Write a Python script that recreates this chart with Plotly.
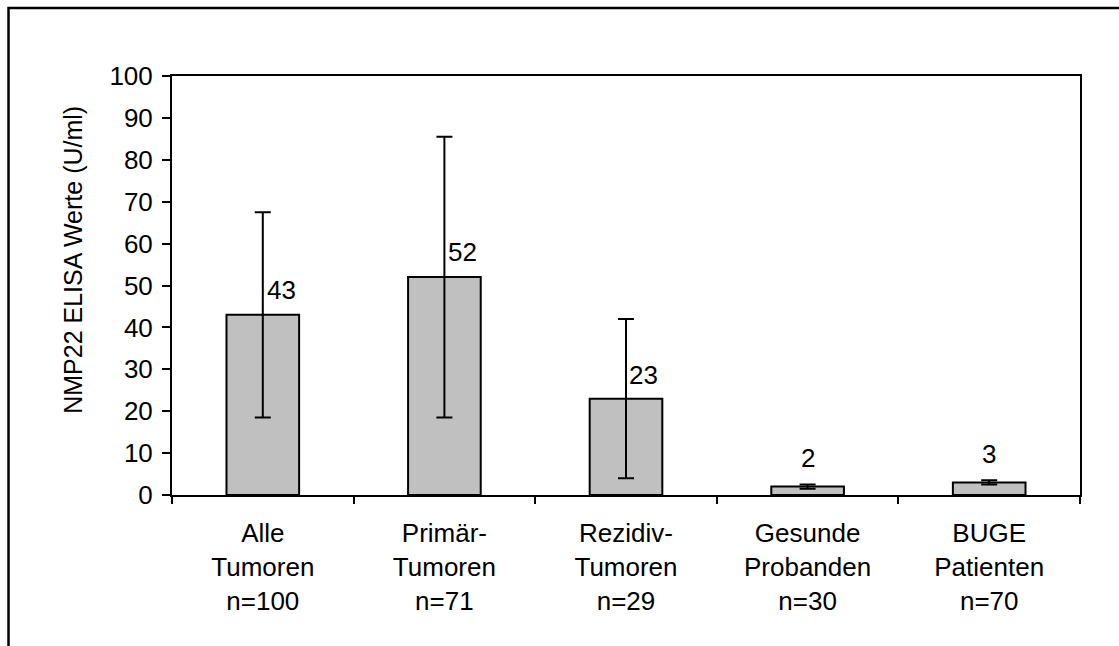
import plotly.graph_objects as go

categories = ["Alle<br>Tumoren<br>n=100", "Primär-<br>Tumoren<br>n=71", "Rezidiv-<br>Tumoren<br>n=29",
              "Gesunde<br>Probanden<br>n=30", "BUGE<br>Patienten<br>n=70"]
values = [43, 52, 23, 2, 3]
errors = [24.5, 33.5, 19, 0.5, 0.5]
value_labels = ["43", "52", "23", "2", "3"]
label_xshift = [19, 18, 17, 0, 0]
label_yshift = [25, 25, 24, 29, 28]
y_ticks = list(range(0, 101, 10))

W, H = 1119, 646
L, R, T, B = 172, 1119 - 1080, 76, 646 - 495.5
FONT = "Liberation Sans, Arial, sans-serif"

fig = go.Figure()
fig.add_trace(go.Bar(
    x=list(range(len(values))), y=values, width=0.4,
    marker=dict(color="#C0C0C0", line=dict(color="black", width=2)),
    error_y=dict(type="data", array=errors, visible=True, color="black", thickness=2, width=8),
    hoverinfo="skip",
))

for i, (v, e, t) in enumerate(zip(values, errors, value_labels)):
    fig.add_annotation(x=i, y=v, text=t, showarrow=False, xshift=label_xshift[i], yshift=label_yshift[i],
                       font=dict(family=FONT, size=26, color="black"), xanchor="center", yanchor="middle")

pw = W - L - R
ph = H - T - B
def px_x(p):
    return (p - L) / pw
def px_y(p):
    return (H - B - p) / ph

# outer chart frame (extends beyond the visible area on right and bottom)
fig.add_shape(type="rect", xref="paper", yref="paper",
              x0=px_x(8.5), x1=px_x(1140), y0=px_y(700), y1=px_y(8),
              line=dict(color="black", width=2.5), fillcolor="rgba(0,0,0,0)", layer="below")

# y axis title
fig.add_annotation(xref="paper", yref="paper", x=px_x(73), y=px_y(260), text="NMP22 ELISA Werte (U/ml)",
                   textangle=-90, showarrow=False, font=dict(family=FONT, size=25, color="black"),
                   xanchor="center", yanchor="middle")

fig.update_layout(
    width=W, height=H,
    margin=dict(l=L, r=R, t=T, b=B),
    paper_bgcolor="white", plot_bgcolor="white",
    showlegend=False,
    font=dict(family=FONT, size=25, color="black"),
    xaxis=dict(
        range=[-0.5, 4.5], tickmode="array", tickvals=list(range(5)), ticktext=categories,
        showline=True, linecolor="black", linewidth=2, mirror=True,
        ticks="", showgrid=False, zeroline=False, ticklabelstandoff=14,
        tickfont=dict(family=FONT, size=26, color="black"),
    ),
    yaxis=dict(
        range=[0, 100], tickmode="array", tickvals=y_ticks,
        showline=True, linecolor="black", linewidth=2, mirror=True,
        ticks="outside", ticklen=8, tickwidth=2, tickcolor="black",
        showgrid=False, zeroline=False, ticklabelstandoff=4,
        tickfont=dict(family=FONT, size=26, color="black"),
    ),
)

# x-axis ticks at category boundaries
fig.update_layout(xaxis2=dict(overlaying="x", range=[-0.5, 4.5], tickmode="array",
                              tickvals=[-0.5, 0.5, 1.5, 2.5, 3.5, 4.5], ticktext=[""] * 6,
                              ticks="outside", ticklen=8, tickwidth=2, tickcolor="black",
                              showline=False, showgrid=False, zeroline=False, side="bottom"))
fig.add_trace(go.Scatter(x=[0], y=[0], xaxis="x2", mode="markers", marker=dict(opacity=0), hoverinfo="skip"))

fig.write_html("out.html")
